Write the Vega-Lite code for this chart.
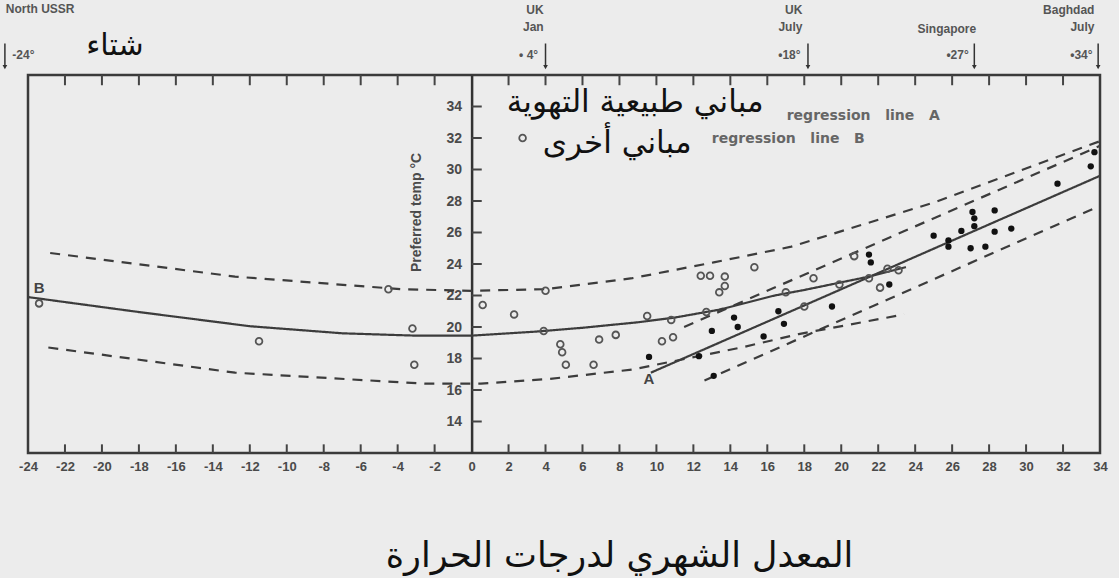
{
  "$schema": "https://vega.github.io/schema/vega-lite/v6.json",
  "width": 1072,
  "height": 378,
  "autosize": "none",
  "padding": {"left": 28, "top": 75, "right": 19, "bottom": 125},
  "background": "#ececec",
  "config": {
    "view": {"stroke": "#3a3a3a", "strokeWidth": 2.5},
    "font": "Liberation Sans",
    "axis": {"labels": false, "domain": false, "ticks": false, "grid": false, "titleOpacity": 0}
  },
  "datasets": {
    "curves": [
      {"series": "B", "style": "solid", "x": -24, "y": 21.9},
      {"series": "B", "style": "solid", "x": -18, "y": 20.95},
      {"series": "B", "style": "solid", "x": -12, "y": 20.05},
      {"series": "B", "style": "solid", "x": -7, "y": 19.6},
      {"series": "B", "style": "solid", "x": -3, "y": 19.45},
      {"series": "B", "style": "solid", "x": 0, "y": 19.45},
      {"series": "B", "style": "solid", "x": 3.4, "y": 19.7},
      {"series": "B", "style": "solid", "x": 6, "y": 19.95},
      {"series": "B", "style": "solid", "x": 9, "y": 20.3},
      {"series": "B", "style": "solid", "x": 11, "y": 20.6},
      {"series": "B", "style": "solid", "x": 13.4, "y": 21.1},
      {"series": "B", "style": "solid", "x": 16.4, "y": 22.0},
      {"series": "B", "style": "solid", "x": 18, "y": 22.35},
      {"series": "B", "style": "solid", "x": 21.5, "y": 23.2},
      {"series": "B", "style": "solid", "x": 23.5, "y": 23.8},
      {"series": "A", "style": "solid", "x": 9.7, "y": 17.1},
      {"series": "A", "style": "solid", "x": 34, "y": 29.6},
      {"series": "B upper", "style": "dashed", "x": -22.8, "y": 24.7},
      {"series": "B upper", "style": "dashed", "x": -12.8, "y": 23.2},
      {"series": "B upper", "style": "dashed", "x": -3.8, "y": 22.4},
      {"series": "B upper", "style": "dashed", "x": 0, "y": 22.3},
      {"series": "B upper", "style": "dashed", "x": 4, "y": 22.4},
      {"series": "B upper", "style": "dashed", "x": 8.7, "y": 23.1},
      {"series": "B upper", "style": "dashed", "x": 13.1, "y": 24.1},
      {"series": "B upper", "style": "dashed", "x": 17.3, "y": 25.1},
      {"series": "B upper", "style": "dashed", "x": 25, "y": 27.9},
      {"series": "B upper", "style": "dashed", "x": 34, "y": 31.8},
      {"series": "B lower", "style": "dashed", "x": -22.9, "y": 18.7},
      {"series": "B lower", "style": "dashed", "x": -12.8, "y": 17.1},
      {"series": "B lower", "style": "dashed", "x": -2.5, "y": 16.4},
      {"series": "B lower", "style": "dashed", "x": 0.5, "y": 16.4},
      {"series": "B lower", "style": "dashed", "x": 4.2, "y": 16.7},
      {"series": "B lower", "style": "dashed", "x": 8.7, "y": 17.3},
      {"series": "B lower", "style": "dashed", "x": 14.6, "y": 18.7},
      {"series": "B lower", "style": "dashed", "x": 17.7, "y": 19.55},
      {"series": "B lower", "style": "dashed", "x": 23.4, "y": 20.8},
      {"series": "A upper", "style": "dashed", "x": 11.5, "y": 20.0},
      {"series": "A upper", "style": "dashed", "x": 34, "y": 31.5},
      {"series": "A lower", "style": "dashed", "x": 12.6, "y": 16.6},
      {"series": "A lower", "style": "dashed", "x": 34, "y": 27.7}
    ],
    "open": [
      {"x": -23.4, "y": 21.5},
      {"x": -11.5, "y": 19.1},
      {"x": -4.5, "y": 22.4},
      {"x": -3.2, "y": 19.9},
      {"x": -3.1, "y": 17.6},
      {"x": 0.6, "y": 21.4},
      {"x": 2.3, "y": 20.8},
      {"x": 4.0, "y": 22.3},
      {"x": 3.9, "y": 19.75},
      {"x": 4.8, "y": 18.9},
      {"x": 4.9, "y": 18.4},
      {"x": 5.1, "y": 17.6},
      {"x": 6.6, "y": 17.6},
      {"x": 6.9, "y": 19.2},
      {"x": 7.8, "y": 19.5},
      {"x": 9.5, "y": 20.7},
      {"x": 10.8, "y": 20.45},
      {"x": 10.3, "y": 19.1},
      {"x": 10.9, "y": 19.35},
      {"x": 12.4, "y": 23.25},
      {"x": 12.9, "y": 23.25},
      {"x": 13.7, "y": 23.2},
      {"x": 13.7, "y": 22.6},
      {"x": 13.4, "y": 22.2},
      {"x": 12.7, "y": 20.95},
      {"x": 15.3, "y": 23.8},
      {"x": 17.0, "y": 22.2},
      {"x": 18.0, "y": 21.3},
      {"x": 18.5, "y": 23.1},
      {"x": 19.9, "y": 22.7},
      {"x": 20.7, "y": 24.5},
      {"x": 21.5, "y": 23.1},
      {"x": 22.1, "y": 22.5},
      {"x": 22.5, "y": 23.7},
      {"x": 23.1, "y": 23.6}
    ],
    "filled": [
      {"x": 9.6, "y": 18.1},
      {"x": 12.3, "y": 18.15},
      {"x": 13.0, "y": 19.75},
      {"x": 13.1, "y": 16.9},
      {"x": 14.2, "y": 20.6},
      {"x": 14.4, "y": 20.0},
      {"x": 15.8, "y": 19.4},
      {"x": 16.6, "y": 21.0},
      {"x": 16.9, "y": 20.2},
      {"x": 19.5, "y": 21.3},
      {"x": 21.5, "y": 24.6},
      {"x": 21.6, "y": 24.1},
      {"x": 22.6, "y": 22.7},
      {"x": 25.0, "y": 25.8},
      {"x": 25.8, "y": 25.5},
      {"x": 25.8, "y": 25.1},
      {"x": 26.5, "y": 26.1},
      {"x": 27.0, "y": 25.0},
      {"x": 27.1, "y": 27.3},
      {"x": 27.2, "y": 26.9},
      {"x": 27.2, "y": 26.4},
      {"x": 27.8, "y": 25.1},
      {"x": 28.3, "y": 27.4},
      {"x": 28.3, "y": 26.05},
      {"x": 29.2, "y": 26.25},
      {"x": 31.7, "y": 29.1},
      {"x": 33.5, "y": 30.2},
      {"x": 33.7, "y": 31.1}
    ],
    "xticks": [
      {"v": -22}, {"v": -20}, {"v": -18}, {"v": -16}, {"v": -14}, {"v": -12}, {"v": -10}, {"v": -8}, {"v": -6}, {"v": -4}, {"v": -2},
      {"v": 2}, {"v": 4}, {"v": 6}, {"v": 8}, {"v": 10}, {"v": 12}, {"v": 14}, {"v": 16}, {"v": 18}, {"v": 20}, {"v": 22}, {"v": 24}, {"v": 26}, {"v": 28}, {"v": 30}, {"v": 32}
    ],
    "yticks": [
      {"v": 14}, {"v": 16}, {"v": 18}, {"v": 20}, {"v": 22}, {"v": 24}, {"v": 26}, {"v": 28}, {"v": 30}, {"v": 32}, {"v": 34}
    ],
    "topRight": [
      {"x": 3.9, "y": 40.1, "label": "UK"},
      {"x": 3.9, "y": 39.05, "label": "Jan"},
      {"x": 3.6, "y": 37.25, "label": "• 4°"},
      {"x": 17.9, "y": 40.1, "label": "UK"},
      {"x": 17.9, "y": 39.05, "label": "July"},
      {"x": 17.8, "y": 37.25, "label": "•18°"},
      {"x": 27.3, "y": 38.95, "label": "Singapore"},
      {"x": 26.9, "y": 37.25, "label": "•27°"},
      {"x": 33.7, "y": 40.1, "label": "Baghdad"},
      {"x": 33.7, "y": 39.05, "label": "July"},
      {"x": 33.6, "y": 37.25, "label": "•34°"}
    ],
    "topLeft": [
      {"x": -25.2, "y": 40.2, "label": "North USSR"},
      {"x": -24.85, "y": 37.25, "label": "-24°"}
    ],
    "arrows": [
      {"x": -25.25, "y0": 38.0, "y1": 36.5},
      {"x": 4, "y0": 38.0, "y1": 36.5},
      {"x": 18.2, "y0": 38.0, "y1": 36.5},
      {"x": 27.2, "y0": 38.0, "y1": 36.5},
      {"x": 33.9, "y0": 38.0, "y1": 36.5}
    ],
    "winter": [
      {"x": -19.3, "y": 37.85, "label": "شتاء"}
    ],
    "arabicLegend": [
      {"x": 15.8, "y": 34.25, "label": "مباني طبيعية التهوية"},
      {"x": 11.9, "y": 31.65, "label": "مباني أخرى"}
    ],
    "legendText": [
      {"x": 17.05, "y": 33.4, "label": "regression\u00a0\u00a0\u00a0line\u00a0\u00a0\u00a0A"},
      {"x": 13.0, "y": 31.95, "label": "regression\u00a0\u00a0\u00a0line\u00a0\u00a0\u00a0B"}
    ],
    "legendMark": [
      {"x": 2.76, "y": 32.0}
    ],
    "curveLabels": [
      {"x": 9.6, "y": 16.7, "label": "A"},
      {"x": -23.4, "y": 22.5, "label": "B"}
    ]
  },
  "resolve": {"axis": {"x": "independent", "y": "independent"}},
  "layer": [
    {
      "data": {"name": "curves"},
      "mark": {"type": "line", "color": "#3c3c3c", "strokeWidth": 2.2, "clip": true},
      "encoding": {
        "x": {
          "field": "x", "type": "quantitative",
          "scale": {"domain": [-24, 34], "nice": false, "zero": false},
          "title": "المعدل الشهري لدرجات الحرارة",
          "axis": {
            "orient": "bottom",
            "values": [-24, -22, -20, -18, -16, -14, -12, -10, -8, -6, -4, -2, 0, 2, 4, 6, 8, 10, 12, 14, 16, 18, 20, 22, 24, 26, 28, 30, 32, 34],
            "labelExpr": "'' + datum.value",
            "labels": true,
            "domain": false,
            "grid": false,
            "ticks": false,
            "labelPadding": 7,
            "labelFont": "Liberation Sans",
            "labelFontSize": 13,
            "labelFontWeight": "bold",
            "labelColor": "#4a4a4a",
            "labelFlush": false,
            "labelOverlap": false,
            "titleOpacity": 1,
            "titleFont": "DejaVu Sans",
            "titleFontSize": 35,
            "titleFontWeight": "normal",
            "titleColor": "#111",
            "titleX": 591,
            "titleY": 113,
            "titleAlign": "center",
            "titleBaseline": "alphabetic"
          }
        },
        "y": {
          "field": "y", "type": "quantitative",
          "scale": {"domain": [12, 36], "nice": false, "zero": false},
          "title": "Preferred temp °C",
          "axis": {
            "orient": "left",
            "offset": -443.6,
            "values": [14, 16, 18, 20, 22, 24, 26, 28, 30, 32, 34],
            "labels": true,
            "domain": true,
            "domainColor": "#333",
            "domainWidth": 2.5,
            "grid": false,
            "ticks": false,
            "labelPadding": 10,
            "labelFont": "Liberation Sans",
            "labelFontSize": 14,
            "labelFontWeight": "bold",
            "labelColor": "#4a4a4a",
            "labelFlush": false,
            "titleOpacity": 1,
            "titleFont": "Liberation Sans",
            "titleFontSize": 14,
            "titleFontWeight": "bold",
            "titleColor": "#4a4a4a",
            "titleAngle": -90,
            "titleX": -55,
            "titleY": 137,
            "titleAlign": "center",
            "titleBaseline": "middle"
          }
        },
        "detail": {"field": "series"},
        "strokeDash": {
          "field": "style", "type": "nominal",
          "scale": {"domain": ["solid", "dashed"], "range": [[1, 0], [10, 8]]},
          "legend": null
        }
      }
    },
    {
      "data": {"name": "xticks"},
      "mark": {"type": "rule", "color": "#444", "strokeWidth": 2},
      "encoding": {
        "x": {"field": "v", "type": "quantitative", "axis": null},
        "y": {"datum": 12},
        "y2": {"datum": 12.55}
      }
    },
    {
      "data": {"name": "xticks"},
      "mark": {"type": "rule", "color": "#444", "strokeWidth": 2},
      "encoding": {
        "x": {"field": "v", "type": "quantitative", "axis": null},
        "y": {"datum": 36},
        "y2": {"datum": 35.35}
      }
    },
    {
      "data": {"name": "yticks"},
      "mark": {"type": "rule", "color": "#444", "strokeWidth": 2},
      "encoding": {
        "y": {"field": "v", "type": "quantitative", "axis": null},
        "x": {"datum": 0},
        "x2": {"datum": 0.55}
      }
    },
    {
      "data": {"name": "open"},
      "mark": {"type": "point", "filled": false, "stroke": "#555", "strokeWidth": 1.8, "size": 45, "opacity": 1},
      "encoding": {
        "x": {"field": "x", "type": "quantitative", "axis": null},
        "y": {"field": "y", "type": "quantitative", "axis": null}
      }
    },
    {
      "data": {"name": "filled"},
      "mark": {"type": "point", "filled": true, "color": "#111", "size": 40, "opacity": 1},
      "encoding": {
        "x": {"field": "x", "type": "quantitative", "axis": null},
        "y": {"field": "y", "type": "quantitative", "axis": null}
      }
    },
    {
      "data": {"name": "legendMark"},
      "mark": {"type": "point", "filled": false, "stroke": "#555", "strokeWidth": 1.8, "size": 45, "opacity": 1},
      "encoding": {
        "x": {"field": "x", "type": "quantitative", "axis": null},
        "y": {"field": "y", "type": "quantitative", "axis": null}
      }
    },
    {
      "data": {"name": "arrows"},
      "mark": {"type": "rule", "color": "#333", "strokeWidth": 1.5, "clip": false},
      "encoding": {
        "x": {"field": "x", "type": "quantitative", "axis": null},
        "y": {"field": "y0", "type": "quantitative", "axis": null},
        "y2": {"field": "y1"}
      }
    },
    {
      "data": {"name": "arrows"},
      "mark": {"type": "point", "shape": "triangle-down", "filled": true, "color": "#333", "size": 22, "opacity": 1, "clip": false},
      "encoding": {
        "x": {"field": "x", "type": "quantitative", "axis": null},
        "y": {"field": "y1", "type": "quantitative", "axis": null}
      }
    },
    {
      "data": {"name": "topRight"},
      "mark": {"type": "text", "align": "right", "baseline": "middle", "font": "Liberation Sans", "fontSize": 12, "fontWeight": "bold", "color": "#555", "clip": false},
      "encoding": {
        "x": {"field": "x", "type": "quantitative", "axis": null},
        "y": {"field": "y", "type": "quantitative", "axis": null},
        "text": {"field": "label"}
      }
    },
    {
      "data": {"name": "topLeft"},
      "mark": {"type": "text", "align": "left", "baseline": "middle", "font": "Liberation Sans", "fontSize": 12, "fontWeight": "bold", "color": "#555", "clip": false},
      "encoding": {
        "x": {"field": "x", "type": "quantitative", "axis": null},
        "y": {"field": "y", "type": "quantitative", "axis": null},
        "text": {"field": "label"}
      }
    },
    {
      "data": {"name": "winter"},
      "mark": {"type": "text", "align": "center", "baseline": "middle", "font": "DejaVu Sans", "fontSize": 30, "color": "#111", "clip": false},
      "encoding": {
        "x": {"field": "x", "type": "quantitative", "axis": null},
        "y": {"field": "y", "type": "quantitative", "axis": null},
        "text": {"field": "label"}
      }
    },
    {
      "data": {"name": "arabicLegend"},
      "mark": {"type": "text", "align": "right", "baseline": "middle", "font": "DejaVu Sans", "fontSize": 31, "color": "#111", "clip": false},
      "encoding": {
        "x": {"field": "x", "type": "quantitative", "axis": null},
        "y": {"field": "y", "type": "quantitative", "axis": null},
        "text": {"field": "label"}
      }
    },
    {
      "data": {"name": "legendText"},
      "mark": {"type": "text", "align": "left", "baseline": "middle", "font": "DejaVu Sans", "fontSize": 14, "fontWeight": "bold", "color": "#666"},
      "encoding": {
        "x": {"field": "x", "type": "quantitative", "axis": null},
        "y": {"field": "y", "type": "quantitative", "axis": null},
        "text": {"field": "label"}
      }
    },
    {
      "data": {"name": "curveLabels"},
      "mark": {"type": "text", "align": "center", "baseline": "middle", "font": "Liberation Sans", "fontSize": 15, "fontWeight": "bold", "color": "#444"},
      "encoding": {
        "x": {"field": "x", "type": "quantitative", "axis": null},
        "y": {"field": "y", "type": "quantitative", "axis": null},
        "text": {"field": "label"}
      }
    }
  ]
}
